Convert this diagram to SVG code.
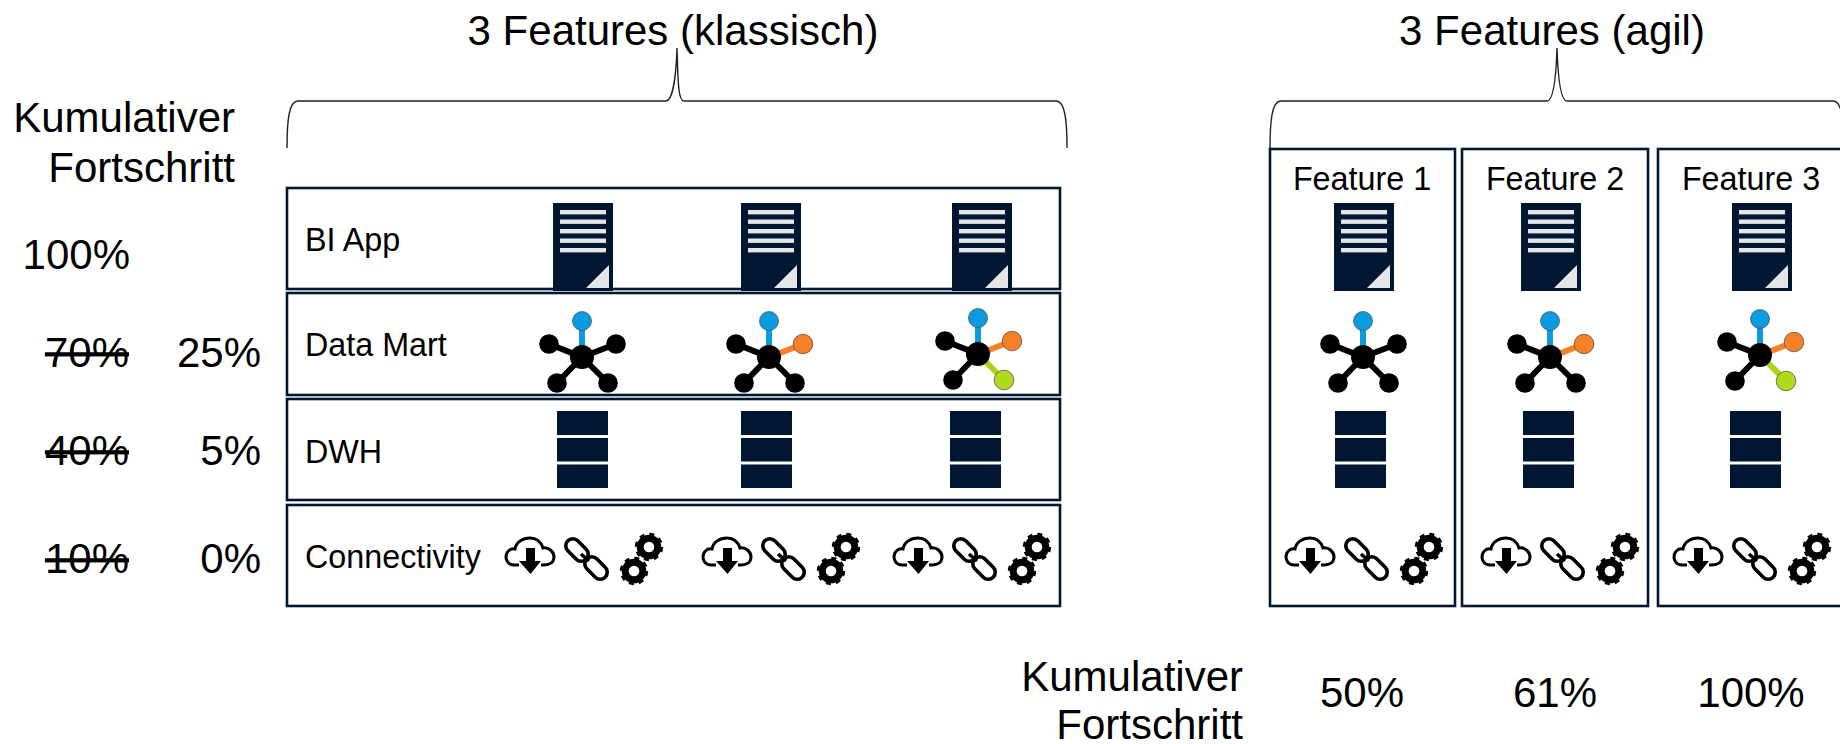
<svg xmlns="http://www.w3.org/2000/svg" width="1840" height="744" viewBox="0 0 1840 744">
<style>
text{font-family:"Liberation Sans",Arial,sans-serif;fill:#000}
.t{font-size:42px}
.s{font-size:32.300px}
.e{text-anchor:end}
.m{text-anchor:middle}
.x{text-decoration:line-through}
.box{fill:none;stroke:#001631;stroke-width:2.6}
.brace{fill:none;stroke:#222;stroke-width:1.4}
</style>
<defs>
<g id="doc"><rect width="60" height="88" fill="#001631"/><g fill="#e4e5e6"><rect x="7" y="7" width="46" height="4.400"/><rect x="7" y="16.500" width="46" height="4.400"/><rect x="7" y="26" width="46" height="4.400"/><rect x="7" y="35.500" width="46" height="4.400"/><rect x="7" y="45" width="46" height="4.400"/><path d="M33 85H56V62Z"/></g></g>
<g id="db" fill="#001631"><rect width="51" height="24"/><rect y="27" width="51" height="23.500"/><rect y="53.500" width="51" height="23.500"/></g>
<g id="arms" stroke="#000" stroke-width="6"><path d="M0 0L-33-13M0 0L-25 26"/></g>
<g id="nodesL" fill="#000"><circle cx="-33" cy="-13" r="9.800"/><circle cx="-25" cy="26" r="9.800"/><circle r="12"/></g>
<g id="top"><path d="M0 0V-35" stroke="#0a9be0" stroke-width="6"/><circle cy="-36" r="9.500" fill="#0a9be0" stroke="#555" stroke-width=".8"/></g>
<g id="star0"><use href="#top"/><path d="M0 0L34-13M0 0L26 26" stroke="#000" stroke-width="6"/><use href="#arms"/><circle cx="34" cy="-13" r="9.800"/><circle cx="26" cy="26" r="9.800"/><use href="#nodesL"/></g>
<g id="star1"><use href="#top"/><path d="M0 0L26 26" stroke="#000" stroke-width="6"/><path d="M11-4L34-13" stroke="#f58026" stroke-width="6"/><use href="#arms"/><circle cx="34" cy="-13" r="9.800" fill="#f58026" stroke="#555" stroke-width=".8"/><circle cx="26" cy="26" r="9.800"/><use href="#nodesL"/></g>
<g id="star2"><use href="#top"/><path d="M11-4L34-13" stroke="#f58026" stroke-width="6"/><path d="M8 8L26 26" stroke="#a6d616" stroke-width="6"/><use href="#arms"/><circle cx="34" cy="-13" r="9.800" fill="#f58026" stroke="#555" stroke-width=".8"/><circle cx="26" cy="26" r="9.800" fill="#aedb1c" stroke="#555" stroke-width=".8"/><use href="#nodesL"/></g>
<g id="gear"><circle r="8.800" fill="none" stroke="#000" stroke-width="7"/><circle r="12.800" fill="none" stroke="#000" stroke-width="2.800" stroke-dasharray="5 5.050"/></g>
<g id="conn">
<path d="M14 28H9C3 28 1 23 1 20C1 15 5 11 10 12C11 5 18 1 25 1C32 1 36 5 38 11C44 10 49 15 49 20C49 25 45 28 39 28H36" fill="none" stroke="#000" stroke-width="3"/>
<path d="M21 11H30V24H36L25.500 37L14 24H21Z" fill="#000"/>
<g fill="none" stroke="#000" stroke-width="3.600"><rect x="-13" y="-7" width="26" height="14" rx="7" transform="translate(72 13) rotate(45)"/><rect x="-13" y="-7" width="26" height="14" rx="7" transform="translate(91 31) rotate(45)"/><path d="M76 17L84 24"/></g>
<use href="#gear" x="144" y="10"/><use href="#gear" x="129" y="34"/>
</g>
</defs>
<rect width="1840" height="744" fill="#fff"/>

<g id="connectors">
<path class="brace" d="M287 148C287 120 289 101 298 101H666C672 101 676 80 677 48C678 80 678 101 684 101H1056C1065 101 1067 120 1067 148"/>
<path class="brace" d="M1270 149C1270 120 1272 101 1281 101H1547C1553 101 1556 80 1557 48C1558 80 1561 101 1567 101H1833C1842 101 1844 120 1844 149"/>
</g>

<g id="titles">
<text class="t m" x="673" y="45">3 Features (klassisch)</text>
<text class="t m" x="1552" y="45">3 Features (agil)</text>
</g>

<g id="progress-classic">
<text class="t e" x="235" y="132">Kumulativer</text>
<text class="t e" x="235" y="182">Fortschritt</text>
<text class="t e" x="130" y="269">100%</text>
<text class="t e x" x="129" y="367">70%</text>
<text class="t e" x="261" y="367">25%</text>
<text class="t e x" x="129" y="465">40%</text>
<text class="t e" x="261" y="465">5%</text>
<text class="t e x" x="129" y="573">10%</text>
<text class="t e" x="261" y="573">0%</text>
</g>

<g id="row-bi-app">
<rect class="box" x="287" y="188" width="773" height="101"/>
<text class="s" x="305" y="251">BI App</text>
<use href="#doc" x="553" y="203"/><use href="#doc" x="741" y="203"/><use href="#doc" x="952" y="203"/>
</g>
<g id="row-data-mart">
<rect class="box" x="287" y="293" width="773" height="102"/>
<text class="s" x="305" y="356">Data Mart</text>
<use href="#star0" x="582" y="357"/><use href="#star1" x="769" y="357"/><use href="#star2" x="978" y="354"/>
</g>
<g id="row-dwh">
<rect class="box" x="287" y="399" width="773" height="101"/>
<text class="s" x="305" y="463">DWH</text>
<use href="#db" x="557" y="411"/><use href="#db" x="741" y="411"/><use href="#db" x="950" y="411"/>
</g>
<g id="row-connectivity">
<rect class="box" x="287" y="505" width="773" height="101"/>
<text class="s" x="305" y="568">Connectivity</text>
<use href="#conn" x="505" y="537"/><use href="#conn" x="702" y="537"/><use href="#conn" x="893" y="537"/>
</g>

<g id="feature-1">
<rect class="box" x="1270" y="149" width="185" height="457"/>
<text class="s m" x="1362" y="190">Feature 1</text>
<use href="#doc" x="1334" y="203"/><use href="#star0" x="1363" y="357"/><use href="#db" x="1335" y="411"/><use href="#conn" x="1285" y="537"/>
</g>
<g id="feature-2">
<rect class="box" x="1462" y="149" width="186" height="457"/>
<text class="s m" x="1555" y="190">Feature 2</text>
<use href="#doc" x="1521" y="203"/><use href="#star1" x="1550" y="357"/><use href="#db" x="1523" y="411"/><use href="#conn" x="1481" y="537"/>
</g>
<g id="feature-3">
<rect class="box" x="1658" y="149" width="200" height="457"/>
<text class="s m" x="1751" y="190">Feature 3</text>
<use href="#doc" x="1732" y="203"/><use href="#star2" x="1760" y="355"/><use href="#db" x="1730" y="411"/><use href="#conn" x="1673" y="537"/>
</g>

<g id="progress-agile">
<text class="t e" x="1243" y="691">Kumulativer</text>
<text class="t e" x="1243" y="739">Fortschritt</text>
<text class="t m" x="1362" y="707">50%</text>
<text class="t m" x="1555" y="707">61%</text>
<text class="t m" x="1751" y="707">100%</text>
</g>
</svg>
